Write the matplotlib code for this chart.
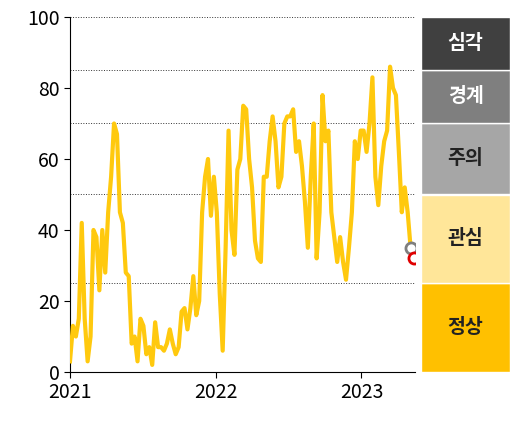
import matplotlib.pyplot as plt
import matplotlib.dates as mdates
import pandas as pd

plt.rcParams['font.family'] = ['Noto Sans CJK KR', 'DejaVu Sans']

values = [3, 13, 10, 15, 42, 15, 3, 10, 40, 38, 23, 40, 28, 45, 55, 70, 67, 45, 42, 28,
          27, 8, 10, 3, 15, 13, 5, 7, 2, 14, 7, 7, 6, 8, 12, 8, 5, 7, 17, 18,
          12, 18, 27, 16, 20, 45, 55, 60, 44, 55, 45, 22, 6, 35, 68, 40, 33, 57, 60, 75,
          74, 60, 52, 37, 32, 31, 55, 55, 65, 72, 65, 52, 55, 70, 72, 72, 74, 62, 65, 58,
          48, 35, 55, 70, 32, 45, 78, 65, 68, 45, 38, 31, 38, 31, 26, 35, 45, 65, 60, 68,
          68, 62, 70, 83, 55, 47, 58, 65, 68, 86, 80, 78, 62, 45, 52, 45, 35]
dates = pd.date_range('2021-01-01', '2023-05-04', periods=len(values))
latest_date = pd.Timestamp('2023-05-12')
latest_value = 32

band_edges = [0, 25, 50, 70, 85, 100]
band_labels = ['정상', '관심', '주의', '경계', '심각']
band_colors = ['#FFC000', '#FFE699', '#A6A6A6', '#7F7F7F', '#404040']
band_text = ['#222222', '#222222', '#222222', 'white', 'white']

fig = plt.figure(figsize=(5.18, 4.25), dpi=100)
ax = fig.add_axes([70 / 518, 53 / 425, 345 / 518, 355 / 425])
ax.plot(dates, values, color='#FFC90E', lw=3, zorder=3)
ax.plot(dates[-1], values[-1], 'o', ms=8, mfc='white', mec='#7F7F7F', mew=2, zorder=4)
ax.plot(latest_date, latest_value, 'o', ms=8, mfc='white', mec='#E00000', mew=2, zorder=4)

for y in band_edges[1:]:
    ax.axhline(y, color='#333333', lw=0.7, ls=':', zorder=1)

ax.set_ylim(0, 100)
ax.set_xlim(pd.Timestamp('2021-01-01'), pd.Timestamp('2023-05-15'))
ax.set_yticks(range(0, 101, 20))
ax.xaxis.set_major_locator(mdates.YearLocator())
ax.xaxis.set_major_formatter(mdates.DateFormatter('%Y'))
ax.tick_params(labelsize=14, length=4)
for s in ['top', 'right']:
    ax.spines[s].set_visible(False)

bx = fig.add_axes([421 / 518, 53 / 425, 89 / 518, 355 / 425])
for i, lab in enumerate(band_labels):
    lo, hi = band_edges[i], band_edges[i + 1]
    bx.bar(0.5, hi - lo, bottom=lo, width=1, color=band_colors[i], edgecolor='white', lw=1)
    bx.text(0.5, (lo + hi) / 2, lab, ha='center', va='center', fontsize=14,
            color=band_text[i], fontweight='bold')
bx.set_xlim(0, 1)
bx.set_ylim(0, 100)
bx.axis('off')

fig.savefig('out.png', dpi=100)
